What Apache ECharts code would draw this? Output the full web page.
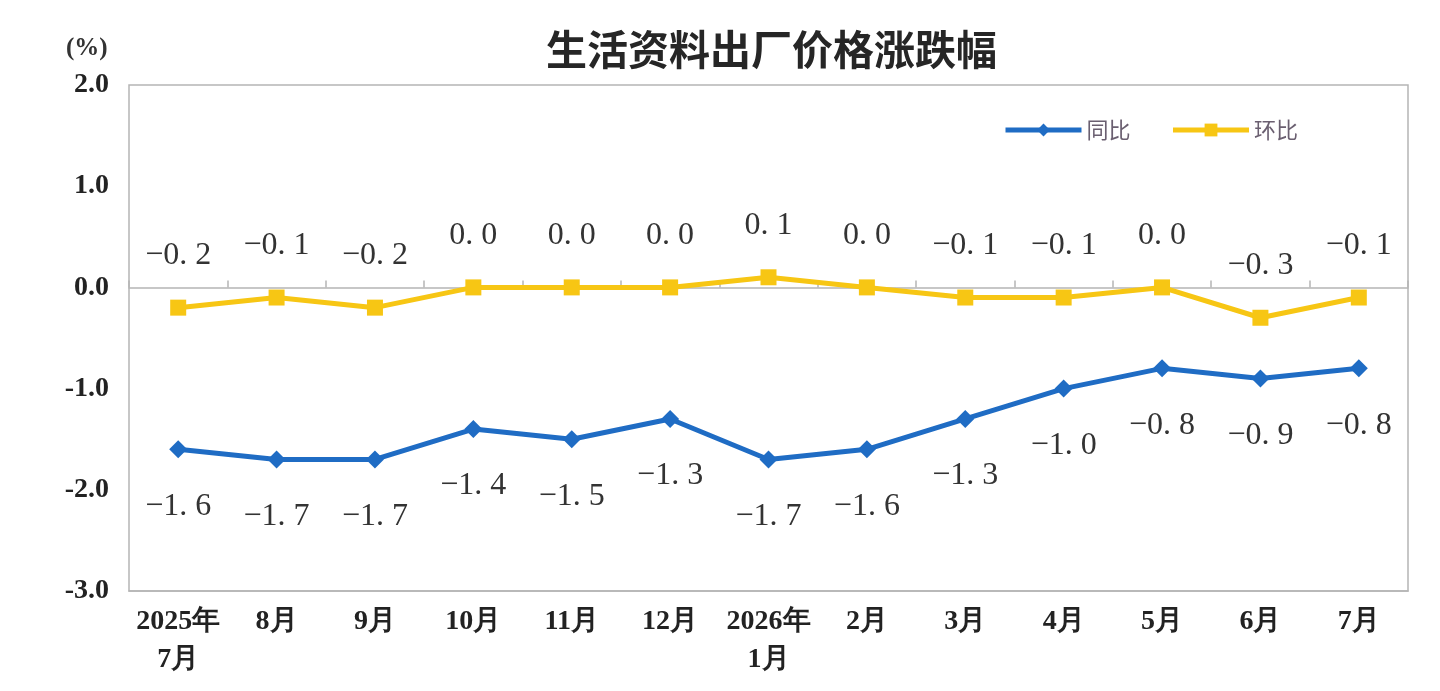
<!DOCTYPE html>
<html><head><meta charset="utf-8">
<script src="https://cdn.jsdelivr.net/npm/echarts@6/dist/echarts.min.js"></script>
<style>html,body{margin:0;padding:0;background:#fff}#c{width:1440px;height:691px}</style>
</head><body><div id="c"></div>
<script>
const categories = ['2025年\n7月','8月','9月','10月','11月','12月','2026年\n1月','2月','3月','4月','5月','6月','7月'];
const yoyValues = [-1.6, -1.7, -1.7, -1.4, -1.5, -1.3, -1.7, -1.6, -1.3, -1.0, -0.8, -0.9, -0.8];
const momValues = [-0.2, -0.1, -0.2, 0.0, 0.0, 0.0, 0.1, 0.0, -0.1, -0.1, 0.0, -0.3, -0.1];
const yTicks = { min: -3, max: 2, interval: 1 };

const fmt = v => (v < 0 ? '\u2212' : '') + Math.abs(v).toFixed(1).replace('.', '. ');
const serif = '"Liberation Serif", "DejaVu Serif", serif';
const chart = echarts.init(document.getElementById('c'));
chart.setOption({
  backgroundColor: '#fff',
  animation: false,
  title: {
    text: '生活资料出厂价格涨跌幅', left: 541, top: 24,
    textStyle: { fontFamily: '"Noto Sans CJK SC", sans-serif', fontSize: 41, fontWeight: 'bold', color: '#262626' }
  },
  graphic: [{
    type: 'text', left: 66, top: 36,
    style: { text: '(%)', font: 'bold 25px ' + serif, fill: '#333' }
  }],
  legend: {
    left: 998, top: 114, itemWidth: 76, itemHeight: 16, itemGap: 40,
    lineStyle: { width: 5 },
    textStyle: { fontSize: 22, color: '#6a5f70', fontFamily: '"Noto Sans CJK SC", sans-serif' },
    data: ['同比', '环比']
  },
  grid: { left: 129, right: 32, top: 85, bottom: 100, show: true, borderColor: '#b5b5b5', borderWidth: 1.5 },
  xAxis: [{
    type: 'category', data: categories, position: 'bottom',
    axisLine: { onZero: false, lineStyle: { color: '#b5b5b5', width: 1.5 } },
    axisTick: { show: false },
    axisLabel: { interval: 0, margin: 12, fontFamily: serif, fontWeight: 'bold', fontSize: 28, color: '#222', lineHeight: 38 }
  }, {
    type: 'category', data: categories, position: 'top',
    axisLine: { onZero: true, lineStyle: { color: '#b5b5b5', width: 1.5 } },
    axisTick: { show: true, interval: 0, inside: false, length: 7, lineStyle: { color: '#b5b5b5', width: 1.5 } },
    axisLabel: { show: false }
  }],
  yAxis: {
    type: 'value', min: yTicks.min, max: yTicks.max, interval: yTicks.interval,
    axisLine: { show: false }, axisTick: { show: false }, splitLine: { show: false },
    axisLabel: { margin: 20, formatter: v => v.toFixed(1), fontFamily: serif, fontWeight: 'bold', fontSize: 28, color: '#222' }
  },
  series: [{
    name: '同比', type: 'line', data: yoyValues, xAxisIndex: 0,
    symbol: 'diamond', symbolSize: 18,
    lineStyle: { color: '#1f6cc4', width: 5 }, itemStyle: { color: '#1f6cc4' },
    label: { show: true, position: 'bottom', distance: 32, formatter: p => fmt(p.value), fontFamily: serif, fontSize: 32, color: '#333' }
  }, {
    name: '环比', type: 'line', data: momValues, xAxisIndex: 0,
    symbol: 'rect', symbolSize: 16,
    lineStyle: { color: '#f7c614', width: 5 }, itemStyle: { color: '#f7c614' },
    label: { show: true, position: 'top', distance: 28, formatter: p => fmt(p.value), fontFamily: serif, fontSize: 32, color: '#333' }
  }]
});
</script></body></html>
